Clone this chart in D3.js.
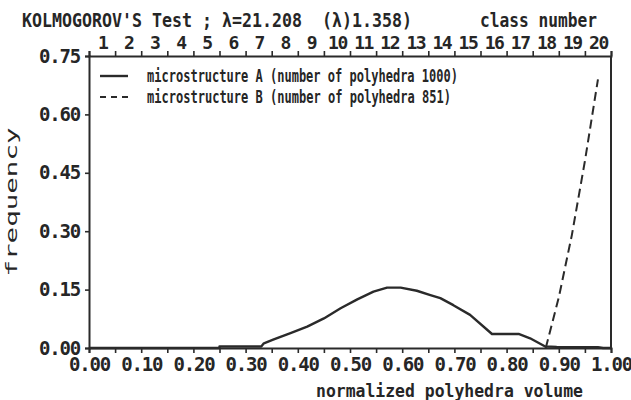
<!DOCTYPE html>
<html><head><meta charset="utf-8">
<script src="https://cdn.jsdelivr.net/npm/d3@7"></script>
<style>
body{margin:0;background:#fff;}
text{font-family:"DejaVu Sans Mono",monospace;font-weight:bold;fill:#262626;}
</style></head>
<body><svg id="c" width="631" height="400"></svg>
<script>
// ---- data ----
const titleText = "KOLMOGOROV'S Test ; λ=21.208  (λ)1.358)";
const topAxisTitle = "class number";
const classNumbers = d3.range(1, 21);
const xTickValues = [0,0.1,0.2,0.3,0.4,0.5,0.6,0.7,0.8,0.9,1.0];
const yTickValues = [0,0.15,0.30,0.45,0.60,0.75];
const seriesNames = ["microstructure A (number of polyhedra 1000)", "microstructure B (number of polyhedra 851)"];
const xLabel = "normalized polyhedra volume";
const yLabel = "frequency";
// microstructure A
const volA = [0,0.25,0.25,0.33,0.335,0.354,0.386,0.418,0.45,0.482,0.514,0.545,0.571,0.597,0.628,0.654,0.673,0.698,0.73,0.772,0.823,0.845,0.874,0.896,0.975,0.985,1.0];
const freqA = [0,0,0.004,0.004,0.012,0.022,0.038,0.055,0.076,0.102,0.125,0.145,0.155,0.155,0.147,0.136,0.128,0.110,0.085,0.036,0.036,0.025,0.004,0.003,0.002,0,0];
// microstructure B
const volB = [0.875,0.90,0.925,0.95,0.975];
const freqB = [0,0.13,0.29,0.48,0.69];

const svg = d3.select("#c");
const ink = "#2a2a2a";
const x = d3.scaleLinear().domain([0,1]).range([89,611]);
const y = d3.scaleLinear().domain([0,0.75]).range([348,56]);
const cls = d3.scaleLinear().domain([0,20]).range([89,611]);

function styleAxis(g){
  g.selectAll("path.domain").attr("stroke", ink).attr("stroke-width", 2);
  g.selectAll(".tick line").attr("stroke", ink).attr("stroke-width", 1.6);
  g.selectAll("text").attr("fill", "#262626");
}

// bottom axis: ticks every 0.05, labels every 0.1
const gBottom = svg.append("g").attr("transform","translate(0,348)")
  .call(d3.axisBottom(x).tickValues(d3.range(0,21).map(i=>i/20)).tickSizeOuter(0).tickSize(5).tickPadding(5)
    .tickFormat(d => xTickValues.some(v=>Math.abs(v-d)<1e-9) ? d3.format(".2f")(d) : ""))
  .call(styleAxis);
gBottom.selectAll("text").style("font-size","19px").style("letter-spacing","-1.2px");

// left axis
const gLeft = svg.append("g").attr("transform","translate(89,0)")
  .call(d3.axisLeft(y).tickValues(yTickValues).tickSizeOuter(0).tickSize(4).tickPadding(5).tickFormat(d3.format(".2f")))
  .call(styleAxis);
gLeft.selectAll("text").style("font-size","19px").style("letter-spacing","-1.2px");

// top axis: class boundaries ticks
svg.append("g").attr("transform","translate(0,56)")
  .call(d3.axisTop(cls).tickValues(d3.range(0,21)).tickSizeOuter(0).tickSize(5).tickFormat(""))
  .call(styleAxis);
// class number labels at class centres
const gTopLab = svg.append("g").attr("transform","translate(0,56)")
  .call(d3.axisTop(cls).tickValues(classNumbers.map(c=>c-0.5)).tickSize(0).tickPadding(7).tickFormat(d=>String(Math.round(d+0.5))));
gTopLab.select("path.domain").remove();
gTopLab.selectAll("text").style("font-size","18px").style("letter-spacing","-1.5px").attr("fill","#262626");

// right frame line
svg.append("line").attr("x1",611).attr("x2",611).attr("y1",y(0.75)).attr("y2",y(0))
  .attr("stroke",ink).attr("stroke-width",2);

// titles
svg.append("text").attr("x",22).attr("y",27).style("white-space","pre").attr("textLength",390).attr("lengthAdjust","spacingAndGlyphs").style("font-size","19px").text(titleText);
svg.append("text").attr("x",480).attr("y",27).attr("textLength",117).attr("lengthAdjust","spacingAndGlyphs").style("font-size","19px").text(topAxisTitle);

// axis labels
svg.append("text").attr("x",316).attr("y",397).attr("textLength",267).attr("lengthAdjust","spacingAndGlyphs").style("font-size","17px").text(xLabel);
svg.append("text").attr("transform","translate(17,202) rotate(-90)").attr("text-anchor","middle")
  .attr("textLength",149).attr("lengthAdjust","spacingAndGlyphs").style("font-size","15px").style("font-weight","normal").attr("fill","#555").text(yLabel);

// series
const line = d3.line().x(d=>x(d[0])).y(d=>y(d[1]));
svg.append("path").datum(d3.zip(volA,freqA)).attr("d",line)
  .attr("fill","none").attr("stroke",ink).attr("stroke-width",2.4).attr("stroke-linejoin","round");
svg.append("path").datum(d3.zip(volB,freqB)).attr("d",line)
  .attr("fill","none").attr("stroke",ink).attr("stroke-width",2).attr("stroke-dasharray","9,5");

// legend
const legY = [76, 97];
svg.append("line").attr("x1",100).attr("x2",128).attr("y1",legY[0]).attr("y2",legY[0]).attr("stroke",ink).attr("stroke-width",2.4);
svg.append("line").attr("x1",100).attr("x2",130).attr("y1",legY[1]).attr("y2",legY[1]).attr("stroke",ink).attr("stroke-width",2).attr("stroke-dasharray","6,5");
svg.append("text").attr("x",147).attr("y",legY[0]+6).attr("textLength",311).attr("lengthAdjust","spacingAndGlyphs").style("font-size","18px").text(seriesNames[0]);
svg.append("text").attr("x",147).attr("y",legY[1]+6).attr("textLength",304).attr("lengthAdjust","spacingAndGlyphs").style("font-size","18px").text(seriesNames[1]);
</script></body></html>
